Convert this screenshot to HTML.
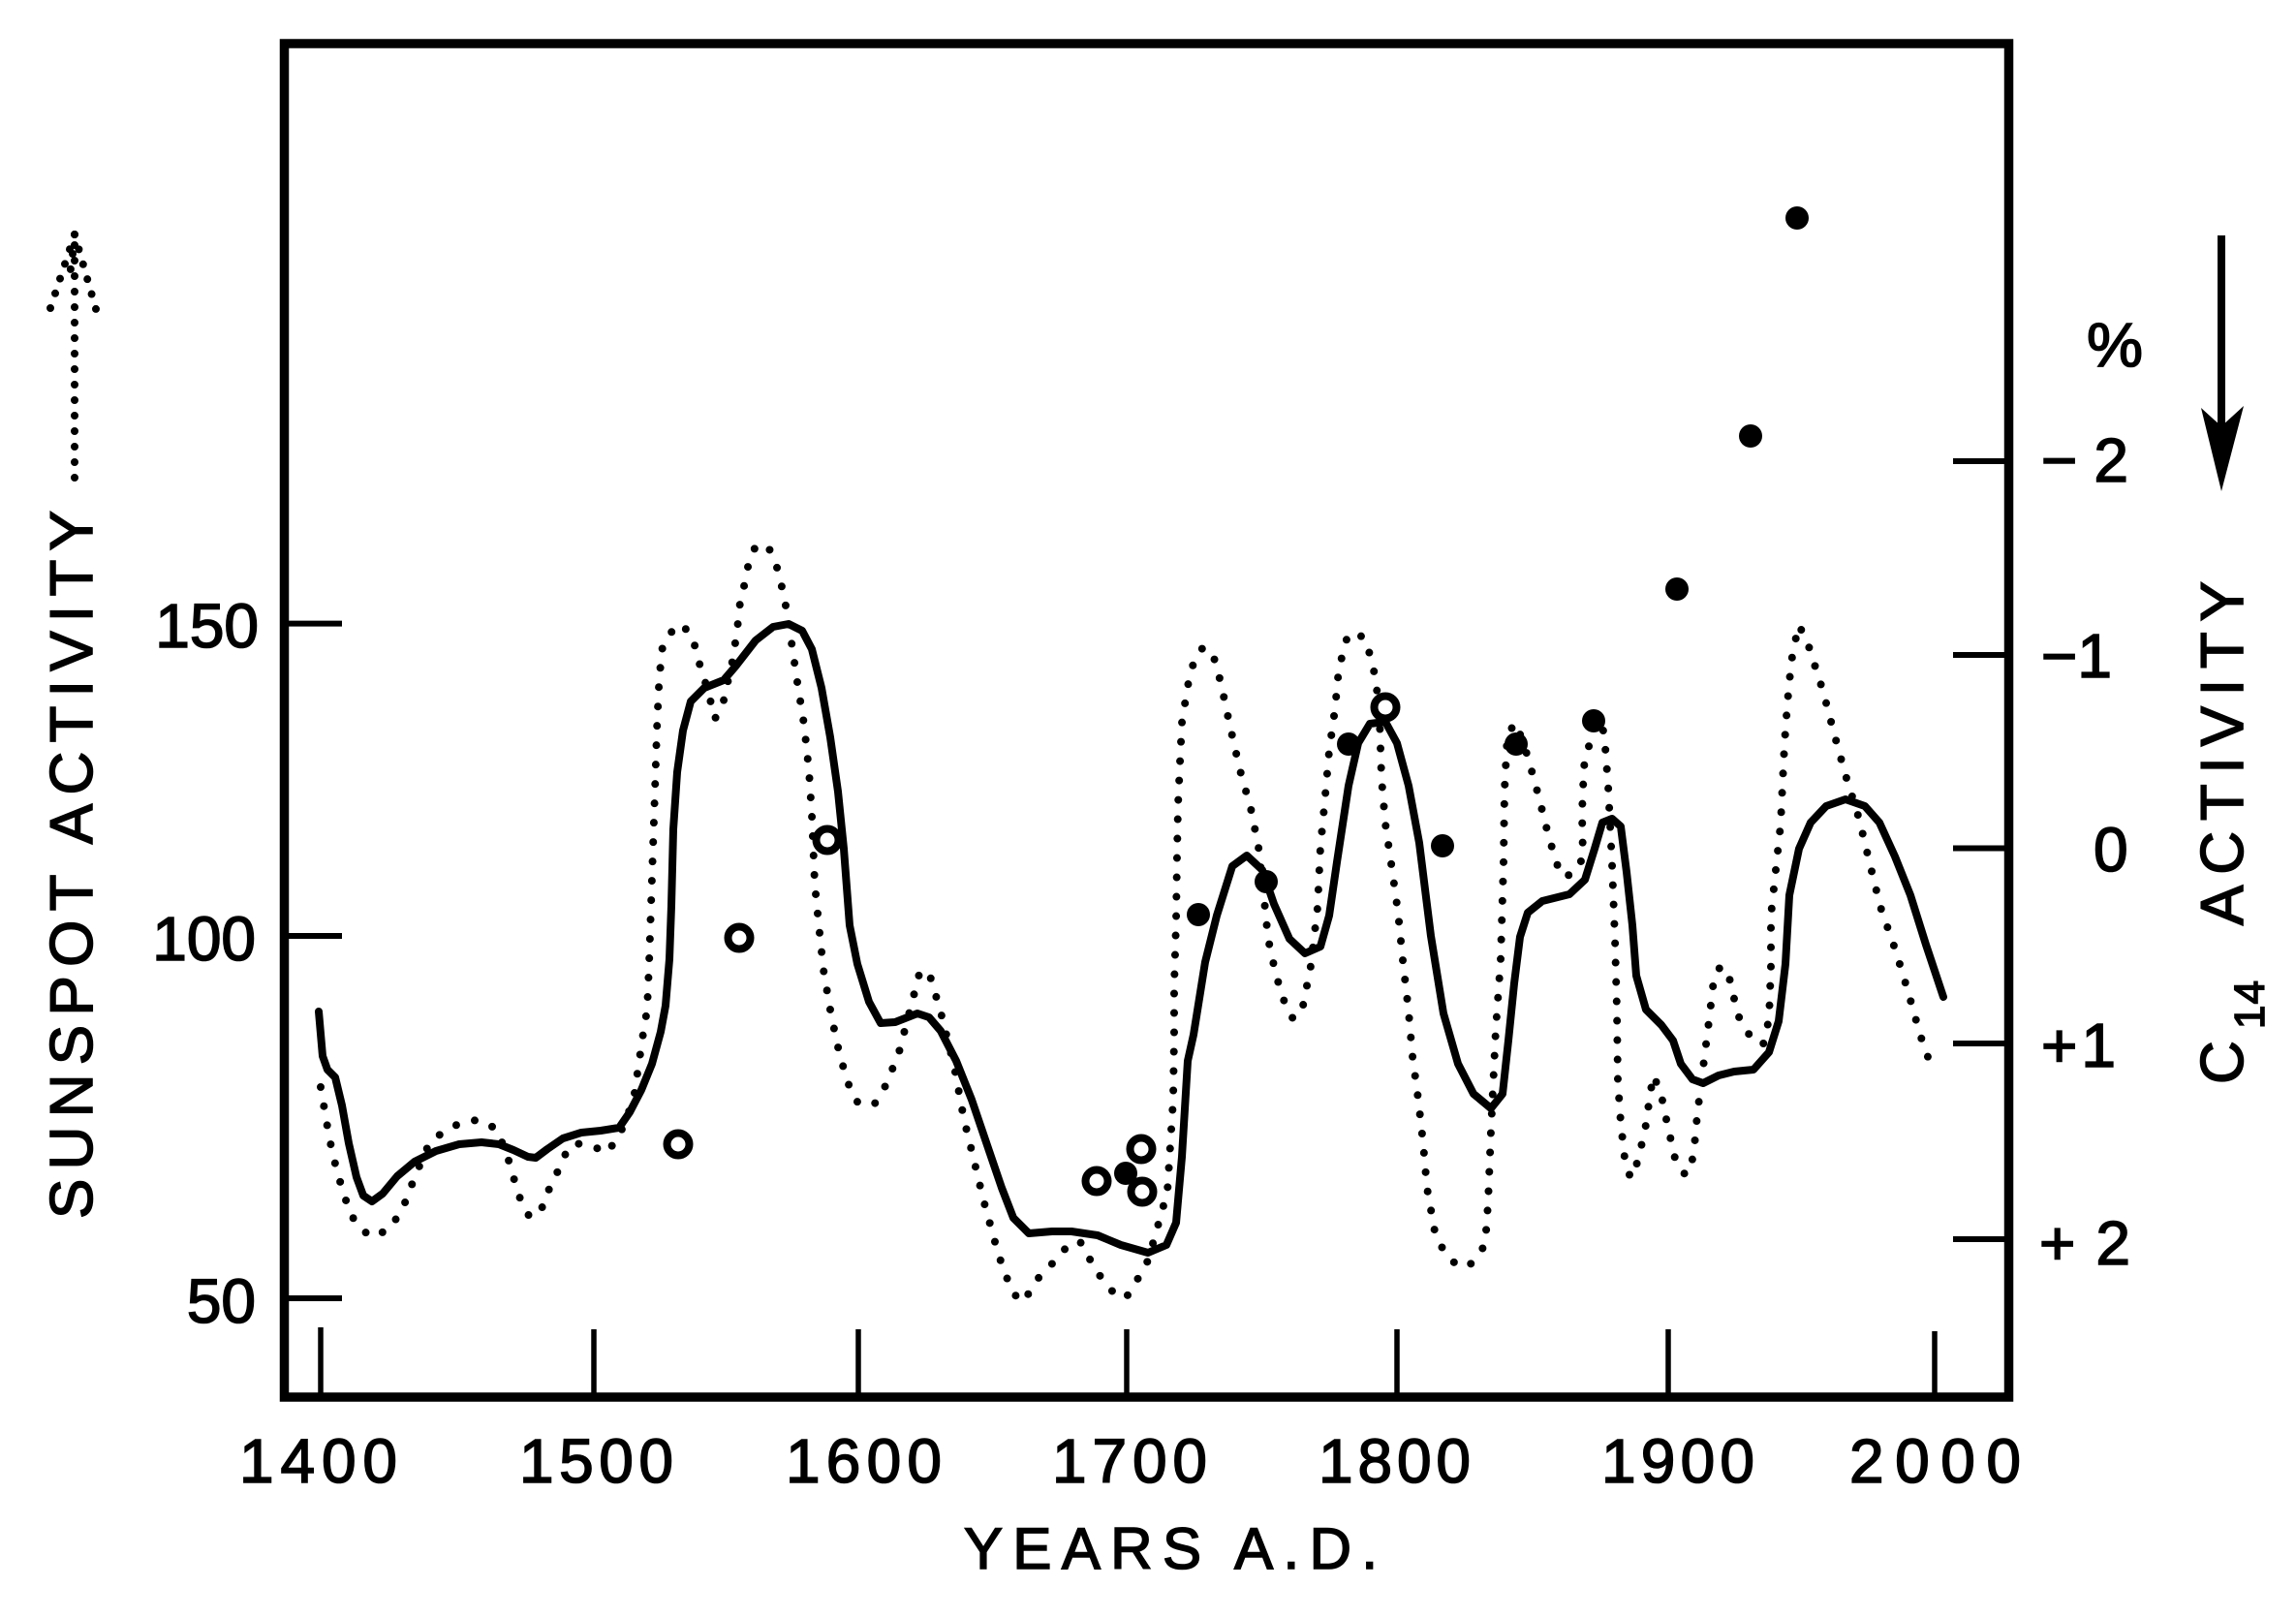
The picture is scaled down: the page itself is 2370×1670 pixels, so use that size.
<!DOCTYPE html>
<html>
<head>
<meta charset="utf-8">
<style>
html,body{margin:0;padding:0;background:#fff;}
svg{display:block;}
text{font-family:"Liberation Sans","DejaVu Sans",sans-serif;fill:#000;stroke:#000;stroke-width:1.6px;}
</style>
</head>
<body>
<svg width="2370" height="1670" viewBox="0 0 2370 1670" xmlns="http://www.w3.org/2000/svg">
<rect x="0" y="0" width="2370" height="1670" fill="#fff"/>

<!-- frame -->
<rect x="293.5" y="45" width="1780" height="1397" fill="none" stroke="#000" stroke-width="9.5"/>

<!-- left ticks -->
<g stroke="#000" stroke-width="6">
<line x1="293" y1="643.6" x2="353" y2="643.6"/>
<line x1="293" y1="966" x2="353" y2="966"/>
<line x1="293" y1="1340" x2="353" y2="1340"/>
</g>
<!-- bottom ticks -->
<g stroke="#000" stroke-width="5.5">
<line x1="331" y1="1370" x2="331" y2="1442"/>
<line x1="613" y1="1372" x2="613" y2="1442"/>
<line x1="886" y1="1372" x2="886" y2="1442"/>
<line x1="1163" y1="1372" x2="1163" y2="1442"/>
<line x1="1442" y1="1372" x2="1442" y2="1442"/>
<line x1="1722" y1="1372" x2="1722" y2="1442"/>
<line x1="1997" y1="1374" x2="1997" y2="1442"/>
</g>
<!-- right ticks -->
<g stroke="#000" stroke-width="6">
<line x1="2016" y1="476" x2="2073" y2="476"/>
<line x1="2016" y1="676" x2="2073" y2="676"/>
<line x1="2016" y1="875.5" x2="2073" y2="875.5"/>
<line x1="2016" y1="1077" x2="2073" y2="1077"/>
<line x1="2016" y1="1279" x2="2073" y2="1279"/>
</g>

<!-- left tick labels -->
<g font-size="64">
<text x="267" y="668" text-anchor="end">150</text>
<text x="264" y="991" text-anchor="end">100</text>
<text x="264" y="1365" text-anchor="end">50</text>
</g>

<!-- bottom tick labels -->
<g font-size="64">
<text x="247" y="1530" textLength="163" lengthAdjust="spacing">1400</text>
<text x="536" y="1530" textLength="159" lengthAdjust="spacing">1500</text>
<text x="811" y="1530" textLength="161" lengthAdjust="spacing">1600</text>
<text x="1086" y="1530" textLength="160" lengthAdjust="spacing">1700</text>
<text x="1361" y="1530" textLength="157" lengthAdjust="spacing">1800</text>
<text x="1653" y="1530" textLength="158" lengthAdjust="spacing">1900</text>
<text x="1909" y="1530" textLength="177" lengthAdjust="spacing">2000</text>
</g>
<text x="995" y="1619" font-size="60" textLength="427" lengthAdjust="spacing">YEARS A.D.</text>

<!-- right tick labels -->
<g font-size="64">
<text x="2154" y="378" textLength="58" lengthAdjust="spacingAndGlyphs">%</text>
<text x="2107" y="497" textLength="90" lengthAdjust="spacing">−2</text>
<text x="2107" y="699" textLength="73" lengthAdjust="spacing">−1</text>
<text x="2161" y="899">0</text>
<text x="2107" y="1101" textLength="77" lengthAdjust="spacing">+1</text>
<text x="2105" y="1305" textLength="94" lengthAdjust="spacing">+2</text>
</g>

<!-- left axis title -->
<text transform="translate(95,1258) rotate(-90)" font-size="62" textLength="731" lengthAdjust="spacing">SUNSPOT ACTIVITY</text>
<!-- dotted arrow -->
<g stroke="#000" stroke-width="8" stroke-linecap="round" stroke-dasharray="0 16" fill="none">
<line x1="77" y1="493" x2="77" y2="250"/>
<line x1="77" y1="242" x2="52" y2="318"/>
<line x1="77" y1="242" x2="101" y2="326"/>
<line x1="75" y1="262" x2="71" y2="292"/>
</g>

<!-- right axis title -->
<text transform="translate(2315,1119) rotate(-90)" font-size="62" textLength="53" lengthAdjust="spacing">C</text>
<text transform="translate(2337,1062) rotate(-90)" font-size="44" textLength="50" lengthAdjust="spacing">14</text>
<text transform="translate(2315,955) rotate(-90)" font-size="62" textLength="355" lengthAdjust="spacing">ACTIVITY</text>
<!-- solid arrow -->
<line x1="2293" y1="243" x2="2293" y2="445" stroke="#000" stroke-width="8"/>
<polygon points="2293,507 2272,421 2293,440 2316,419" fill="#000"/>

<!-- solid curve -->
<polyline fill="none" stroke="#000" stroke-width="8" stroke-linejoin="round" stroke-linecap="round" points="
329,1044 333,1090 338,1104 346,1112 353,1141 360,1180 368,1215 375,1234 384,1240 395,1232 410,1214 428,1199 450,1188 474,1181 497,1179 515,1181 530,1187 545,1194 553,1195 565,1186 581,1175 600,1169 620,1167 639,1164 650,1148 662,1125 673,1098 682,1065 687,1038 691,990 693,935 695,856 699,797 705,754 713,724 727,710 747,702 759,688 780,661 798,647 814,644 828,651 838,670 848,710 857,761 865,817 871,876 877,955 885,995 897,1034 909,1056 924,1055 947,1046 959,1050 971,1064 987,1095 1003,1135 1019,1182 1034,1226 1046,1257 1062,1273 1086,1271 1106,1271 1133,1275 1157,1285 1185,1293 1204,1285 1214,1262 1220,1194 1226,1095 1232,1068 1244,993 1256,945 1272,894 1287,883 1303,898 1315,933 1331,969 1347,984 1363,977 1372,945 1380,890 1392,811 1402,767 1414,747 1430,745 1442,767 1454,811 1465,870 1477,966 1490,1046 1505,1098 1521,1129 1539,1144 1551,1129 1557,1074 1563,1015 1569,967 1577,942 1592,930 1620,923 1636,908 1646,876 1654,849 1664,845 1673,853 1679,900 1685,955 1689,1007 1699,1042 1715,1058 1727,1074 1735,1098 1747,1114 1758,1118 1774,1110 1790,1106 1810,1104 1826,1086 1836,1054 1843,995 1847,924 1857,876 1869,849 1885,832 1905,825 1925,832 1940,849 1956,884 1972,924 1988,975 2006,1029"/>

<!-- dotted curve -->
<polyline fill="none" stroke="#000" stroke-width="8" stroke-linejoin="round" stroke-linecap="round" stroke-dasharray="0 20" points="
331,1122 340,1175 348,1210 355,1232 361,1252 372,1268 384,1277 403,1268 417,1244 423,1228 431,1208 444,1178 463,1165 480,1157 497,1156 513,1166 524,1194 530,1215 536,1235 547,1257 562,1244 568,1223 578,1205 587,1183 600,1180 612,1183 626,1190 639,1173 654,1135 664,1066 668,1042 670,995 672,935 674,876 676,817 678,754 680,710 683,671 690,655 703,644 715,657 720,679 726,697 733,722 738,742 747,723 757,678 762,641 764,621 769,601 773,580 779,566 792,562 801,582 806,601 811,625 817,663 823,704 830,748 835,795 838,841 841,912 845,953 850,1001 858,1048 867,1090 879,1129 887,1140 903,1139 915,1119 928,1086 941,1036 950,1001 961,1010 973,1052 985,1101 995,1155 1005,1196 1015,1238 1029,1289 1036,1311 1046,1335 1056,1344 1072,1319 1094,1296 1104,1283 1115,1282 1121,1289 1127,1305 1137,1319 1150,1335 1162,1340 1175,1319 1185,1301 1193,1273 1205,1230 1208,1182 1211,1135 1212,1066 1212,1018 1214,951 1215,882 1216,831 1218,787 1220,746 1226,708 1233,680 1242,668 1252,675 1260,704 1270,751 1280,795 1291,834 1299,874 1305,929 1309,969 1317,1006 1327,1038 1335,1052 1345,1038 1353,997 1360,937 1363,874 1367,832 1372,775 1378,732 1382,690 1390,660 1398,652 1410,660 1420,700 1424,740 1426,803 1430,850 1437,898 1443,941 1448,991 1454,1044 1458,1090 1464,1135 1469,1180 1473,1226 1481,1271 1491,1293 1505,1307 1517,1306 1533,1285 1536,1242 1539,1167 1544,1062 1549,991 1552,890 1553,816 1556,757 1565,746 1577,781 1588,821 1599,865 1611,904 1622,903 1634,886 1633,839 1635,791 1644,754 1652,744 1656,758 1660,811 1664,892 1667,969 1669,1042 1670,1116 1673,1159 1677,1195 1683,1216 1690,1200 1698,1167 1704,1125 1707,1110 1715,1131 1721,1160 1730,1200 1740,1213 1748,1194 1752,1150 1759,1094 1764,1054 1769,1011 1776,997 1785,1009 1794,1048 1808,1072 1820,1078 1826,1052 1828,997 1828,945 1833,898 1838,851 1840,809 1842,768 1845,726 1849,683 1853,662 1857,645 1867,667 1882,714 1894,760 1905,800 1919,845 1930,891 1941,936 1957,982 1970,1025 1982,1068 1996,1108"/>

<!-- open circles -->
<g fill="#fff" stroke="#000" stroke-width="8">
<circle cx="700" cy="1181" r="11.5"/>
<circle cx="763" cy="968" r="11.5"/>
<circle cx="854" cy="867" r="11.5"/>
<circle cx="1132" cy="1219" r="11.5"/>
<circle cx="1178" cy="1186" r="11.5"/>
<circle cx="1179" cy="1230" r="11.5"/>
<circle cx="1430" cy="730" r="11.5"/>
</g>
<!-- filled dots -->
<g fill="#000">
<circle cx="1162" cy="1211" r="12"/>
<circle cx="1237" cy="944" r="12"/>
<circle cx="1307" cy="910" r="12"/>
<circle cx="1392" cy="768" r="12"/>
<circle cx="1489" cy="873" r="12"/>
<circle cx="1565" cy="768" r="12"/>
<circle cx="1645" cy="744" r="12"/>
<circle cx="1731" cy="608" r="12"/>
<circle cx="1807" cy="450" r="12"/>
<circle cx="1855" cy="225" r="12"/>
</g>
</svg>
</body>
</html>
